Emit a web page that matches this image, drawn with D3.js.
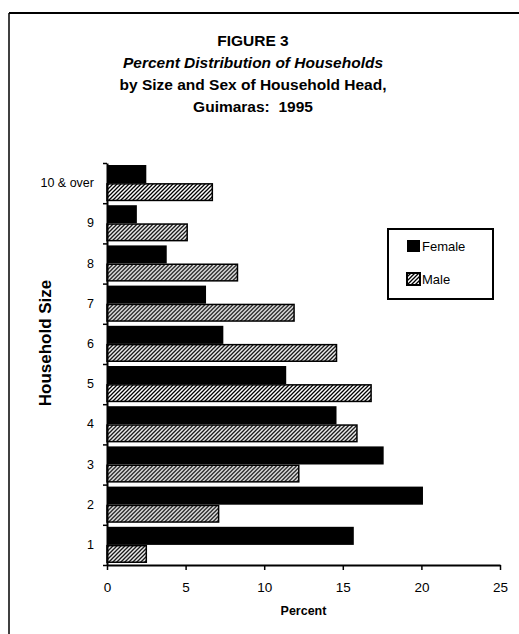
<!DOCTYPE html>
<html>
<head>
<meta charset="utf-8">
<script src="https://cdn.jsdelivr.net/npm/d3@7"></script>
<style>
  body { margin: 0; background: #fff; }
  svg { display: block; font-family: Arial, "Liberation Sans", sans-serif; }
</style>
</head>
<body>
<svg id="chart"></svg>
<script>
// Household size categories, bottom to top
const SIZES = ['1', '2', '3', '4', '5', '6', '7', '8', '9', '10 & over'];

// Percent of households, by sex of head
const FEMALE = [15.7, 20.1, 17.6, 14.6, 11.4, 7.4, 6.3, 3.8, 1.9, 2.5];
const MALE = [2.5, 7.1, 12.2, 15.9, 16.8, 14.6, 11.9, 8.3, 5.1, 6.7];

const SERIES = ['Female', 'Male'];
const X_TICKS = [0, 5, 10, 15, 20, 25];

const TITLE_LINES = [
    {text: 'FIGURE 3', italic: false},
    {text: 'Percent Distribution of Households', italic: true},
    {text: 'by Size and Sex of Household Head,', italic: false},
    {text: 'Guimaras:  1995', italic: false}
];

// Canvas settings
const WIDTH = 519;
const HEIGHT = 634;
const PLOT = {left: 107, right: 500, top: 163, bottom: 565};

const svg = d3.select('svg#chart').attr('width', WIDTH).attr('height', HEIGHT);

// Hatch pattern for the male bars
const defs = svg.append('defs');
defs.append('pattern')
    .attr('id', 'hatch')
    .attr('patternUnits', 'userSpaceOnUse')
    .attr('width', 4).attr('height', 4)
  .append('path')
    .attr('d', 'M-1,1 l2,-2 M0,4 l4,-4 M3,5 l2,-2')
    .attr('stroke', '#000')
    .attr('stroke-width', 1.3);

// Page frame (top and left rules of the scanned page)
svg.append('line').attr('x1', 9).attr('x2', WIDTH).attr('y1', 13).attr('y2', 13)
    .attr('stroke', '#000').attr('stroke-width', 2);
svg.append('line').attr('x1', 9).attr('x2', 9).attr('y1', 13).attr('y2', HEIGHT)
    .attr('stroke', '#000').attr('stroke-width', 1.5);

// Title
svg.append('g').selectAll('text')
    .data(TITLE_LINES)
    .join('text')
    .attr('x', 253)
    .attr('y', (d, i) => 46 + i * 22)
    .attr('text-anchor', 'middle')
    .attr('font-size', 15.5)
    .attr('font-weight', 'bold')
    .attr('font-style', d => d.italic ? 'italic' : 'normal')
    .style('white-space', 'pre')
    .text(d => d.text);

// Scales
const x = d3.scaleLinear().domain([0, 25]).range([PLOT.left, PLOT.right]);

const y = d3.scaleBand()
    .domain(SIZES)
    .range([PLOT.bottom, PLOT.top])
    .paddingInner(0.1)
    .paddingOuter(0.05);

const ySub = d3.scaleBand().domain(SERIES).range([0, y.bandwidth()]);

// Boundaries between categories, for the tick marks
const yEdge = d3.scaleLinear().domain([0, SIZES.length]).range([PLOT.bottom, PLOT.top]);

// Bars
const rows = SIZES.map((s, i) => ({size: s, Female: FEMALE[i], Male: MALE[i]}));

const groups = svg.append('g').selectAll('g')
    .data(rows)
    .join('g')
    .attr('transform', d => `translate(0,${y(d.size)})`);

groups.append('rect')
    .attr('x', x(0))
    .attr('y', ySub('Female'))
    .attr('width', d => x(d.Female) - x(0))
    .attr('height', ySub.bandwidth())
    .attr('fill', '#000');

groups.append('rect')
    .attr('x', x(0))
    .attr('y', ySub('Male') + 0.75)
    .attr('width', d => x(d.Male) - x(0))
    .attr('height', ySub.bandwidth() - 1.5)
    .attr('fill', 'url(#hatch)')
    .attr('stroke', '#000')
    .attr('stroke-width', 1.5);

// Y axis: tick marks at category boundaries
svg.append('g')
    .attr('transform', `translate(${PLOT.left},0)`)
    .call(d3.axisLeft(yEdge).tickValues(d3.range(0, SIZES.length + 1)).tickSize(4).tickSizeOuter(0).tickFormat(''))
    .call(g => g.select('.domain').attr('stroke-width', 2))
    .call(g => g.selectAll('.tick line').attr('stroke-width', 1.5));

// Y axis labels
svg.append('g')
    .attr('transform', `translate(${PLOT.left - 13},0)`)
    .call(d3.axisLeft(y).tickSize(0).tickPadding(0))
    .call(g => g.select('.domain').remove())
    .call(g => g.selectAll('text').attr('font-size', 12.5).attr('font-family', 'Arial, "Liberation Sans", sans-serif').attr('fill', '#000'));

// X axis
svg.append('g')
    .attr('transform', `translate(0,${PLOT.bottom})`)
    .call(d3.axisBottom(x).tickValues(X_TICKS).tickSize(5).tickSizeOuter(0).tickPadding(12))
    .call(g => g.select('.domain').attr('stroke-width', 2))
    .call(g => g.selectAll('.tick line').attr('stroke-width', 1.5))
    .call(g => g.selectAll('text').attr('font-size', 13.5).attr('font-family', 'Arial, "Liberation Sans", sans-serif').attr('fill', '#000'));

// Axis titles
svg.append('text')
    .attr('x', (PLOT.left + PLOT.right) / 2)
    .attr('y', 615)
    .attr('text-anchor', 'middle')
    .attr('font-size', 12.5)
    .attr('font-weight', 'bold')
    .text('Percent');

svg.append('text')
    .attr('transform', 'translate(51,343) rotate(-90)')
    .attr('text-anchor', 'middle')
    .attr('font-size', 17)
    .attr('font-weight', 'bold')
    .text('Household Size');

// Legend
const legend = svg.append('g').attr('transform', 'translate(388,229)');
legend.append('rect')
    .attr('width', 105).attr('height', 70)
    .attr('fill', '#fff').attr('stroke', '#000').attr('stroke-width', 2);

const items = legend.selectAll('g.item')
    .data(SERIES)
    .join('g')
    .attr('class', 'item')
    .attr('transform', (d, i) => `translate(19,${11 + i * 33})`);

items.append('rect')
    .attr('width', 13).attr('height', 12)
    .attr('fill', d => d === 'Female' ? '#000' : 'url(#hatch)')
    .attr('stroke', '#000').attr('stroke-width', d => d === 'Female' ? 0 : 2);

items.append('text')
    .attr('x', 15).attr('y', 11)
    .attr('font-size', 13)
    .text(d => d);
</script>
</body>
</html>
